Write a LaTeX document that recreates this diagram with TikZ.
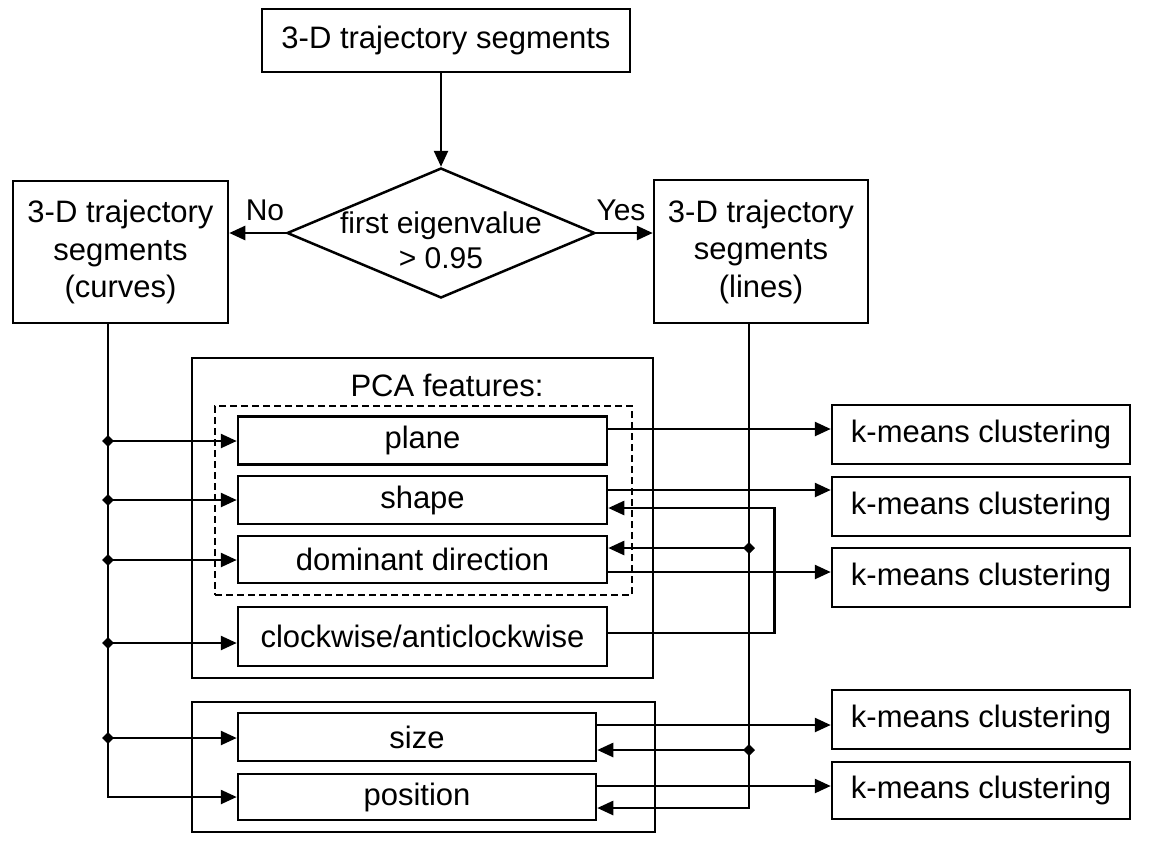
\documentclass[tikz,border=0pt]{standalone}
\usepackage{fontspec}
\setmainfont{Liberation Sans}
\usetikzlibrary{arrows.meta,shapes.geometric,calc}
\begin{document}
\begin{tikzpicture}[x=1pt,y=-1pt,line width=2.5pt,
  box/.style={draw,line width=2.5pt,inner sep=0pt,align=center,font=\fontsize{31}{37.5}\selectfont},
  txt/.style={inner sep=0pt,align=center,font=\fontsize{30}{35}\selectfont},
  arr/.style={-{Triangle[length=16pt,width=14pt]}},
  jn/.style={diamond,fill,draw=none,inner sep=0pt,minimum size=13pt},
  cont/.style={draw,line width=2.5pt,inner sep=0pt},
  kbox/.style={box,minimum width=298pt},
  fbox/.style={box,minimum width=369pt}]
\useasboundingbox (0,0) rectangle (1149,847);

% top part
\node[box,minimum width=368pt,minimum height=63pt] (top) at (446,40.5) {3-D trajectory segments};
\node[diamond,draw,line width=2.5pt,minimum width=308pt,minimum height=130pt,inner sep=0pt] (dia) at (441,233) {};
\node[txt] (diat) at (441,240) {first eigenvalue\\> 0.95};
\node[box,minimum width=215pt,minimum height=142pt] (curves) at (120.5,252) {3-D trajectory\\segments\\(curves)};
\node[box,minimum width=214pt,minimum height=143pt] (lines) at (761,251.5) {3-D trajectory\\segments\\(lines)};
\node[txt] (no) at (265,210) {No};
\node[txt] (yes) at (621,210) {Yes};

% containers
\node[cont,minimum width=461pt,minimum height=320pt] (pca) at (422.5,518) {};
\node[txt,font=\fontsize{31}{37}\selectfont] (pcat) at (447,385) {PCA features:};
\node[cont,dash pattern=on 7pt off 4pt,minimum width=417pt,minimum height=189pt] (dash) at (423.5,500.5) {};
\node[cont,minimum width=463pt,minimum height=130pt] (sp) at (423.5,767) {};

% feature boxes
\node[fbox,minimum height=48pt] (plane) at (422.5,440.5) {plane};
\node[fbox,minimum height=48pt] (shape) at (422.5,500) {shape};
\node[fbox,minimum height=47pt] (dom) at (422.5,559.5) {dominant direction};
\node[fbox,minimum height=59pt] (clock) at (422.5,636.5) {clockwise/anticlockwise};
\node[box,minimum width=358pt,minimum height=48pt] (size) at (417,737) {size};
\node[box,minimum width=358pt,minimum height=46pt] (pos) at (417,797) {position};

% k-means boxes
\node[kbox,minimum height=59pt] (k1) at (981,434.5) {k-means clustering};
\node[kbox,minimum height=59pt] (k2) at (981,506.5) {k-means clustering};
\node[kbox,minimum height=59pt] (k3) at (981,577.5) {k-means clustering};
\node[kbox,minimum height=59pt] (k4) at (981,719.5) {k-means clustering};
\node[kbox,minimum height=57pt] (k5) at (981,790.5) {k-means clustering};

% junctions
\node[jn] (j1) at (108,441) {};
\node[jn] (j2) at (108,500) {};
\node[jn] (j3) at (108,560) {};
\node[jn] (j4) at (108,643) {};
\node[jn] (j5) at (108,738) {};
\node[jn] (r1) at (749,548) {};
\node[jn] (r2) at (749,750) {};

% top connectors
\draw[arr] (top.south -| dia.north) -- (dia.north);
\draw[arr] (dia.west) -- (dia.west -| curves.east);
\draw[arr] (dia.east) -- (dia.east -| lines.west);

% left bus
\draw[arr] (curves.south -| j1) |- (pos.west);
\draw[arr] (j1.center) -- (j1 -| plane.west);
\draw[arr] (j2.center) -- (j2 -| shape.west);
\draw[arr] (j3.center) -- (j3 -| dom.west);
\draw[arr] (j4.center) -- (j4 -| clock.west);
\draw[arr] (j5.center) -- (j5 -| size.west);

% right bus
\draw[arr] (lines.south -| r1) |- ($(pos.east)+(0,11)$);
\draw[arr] (r1.center) -- (r1 -| dom.east);
\draw[arr] (r2.center) -- (r2 -| size.east);

% clockwise loop
\draw[arr] ($(clock.east)+(0,-3.5)$) -- ++(166,0) |- ($(shape.east)+(0,8)$);

% outputs
\draw[arr] ($(plane.east)+(0,-11.5)$) coordinate (o1) -- (o1 -| k1.west);
\draw[arr] ($(shape.east)+(0,-10)$) coordinate (o2) -- (o2 -| k2.west);
\draw[arr] ($(dom.east)+(0,12.5)$) coordinate (o3) -- (o3 -| k3.west);
\draw[arr] ($(size.east)+(0,-12)$) coordinate (o4) -- (o4 -| k4.west);
\draw[arr] ($(pos.east)+(0,-11)$) coordinate (o5) -- (o5 -| k5.west);
\end{tikzpicture}
\end{document}
